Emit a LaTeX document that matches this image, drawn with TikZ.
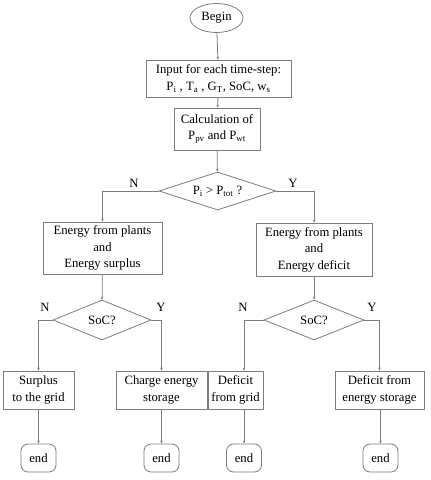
\documentclass[tikz,border=0pt]{standalone}
\usepackage{fontspec}
\setmainfont{Liberation Serif}
\usetikzlibrary{shapes.geometric,arrows.meta,calc}
\definecolor{linegray}{RGB}{125,125,125}
\begin{document}
\begin{tikzpicture}[x=1pt,y=-1pt,
  every node/.style={font=\fontsize{12.7}{16.5}\selectfont, text=black},
  box/.style={draw=linegray, line width=0.8pt, rectangle, inner sep=0pt, align=center},
  dec/.style={draw=linegray, line width=0.8pt, diamond, shape aspect=3, inner sep=0pt},
  term/.style={draw=linegray, line width=0.8pt, rectangle, rounded corners=7pt, inner sep=0pt, minimum width=35pt, minimum height=28pt},
  arr/.style={draw=linegray, line width=0.8pt, -{Stealth[length=3pt,width=2.5pt]}},
  lbl/.style={inner sep=0pt}]
\useasboundingbox (0,0) rectangle (431,480);
\node[draw=linegray, line width=0.8pt, ellipse, inner sep=0pt, minimum width=53pt, minimum height=29pt] (begin) at (216.5,18) {Begin};
\node[box, minimum width=145pt, minimum height=37pt] (input) at (218.5,78.5) {Input for each time-step:\\P\textsubscript{i} , T\textsubscript{a} , G\textsubscript{T}, SoC, w\textsubscript{s}};
\node[box, minimum width=86pt, minimum height=42pt] (calc) at (217,129) {Calculation of\\P\textsubscript{pv} and P\textsubscript{wt}};
\node[dec, minimum width=117pt, minimum height=38pt] (d1) at (217.5,191) {P\textsubscript{i} > P\textsubscript{tot} ?};
\node[box, minimum width=119pt, minimum height=52pt] (lb) at (102.5,248) {Energy from plants\\and\\Energy surplus};
\node[box, minimum width=116pt, minimum height=53pt] (rb) at (314,249.5) {Energy from plants\\and\\Energy deficit};
\node[dec, minimum width=98pt, minimum height=40pt] (d2) at (102,320) {SoC?};
\node[dec, minimum width=100pt, minimum height=40pt] (d3) at (314,320) {SoC?};
\node[box, minimum width=71pt, minimum height=38pt] (sg) at (38.5,390) {Surplus\\to the grid};
\node[box, minimum width=91pt, minimum height=38pt] (ces) at (161.5,390) {Charge energy\\storage};
\node[box, minimum width=55pt, minimum height=38pt] (dg) at (235.5,390) {Deficit\\from grid};
\node[box, minimum width=89pt, minimum height=38pt] (ds) at (379.5,390) {Deficit from\\energy storage};
\node[term] (e1) at (38.5,458) {end};
\node[term] (e2) at (161.5,458) {end};
\node[term] (e3) at (244,458) {end};
\node[term] (e4) at (380.5,458) {end};
\draw[arr] (begin) -- (input);
\draw[arr] (input) -- (calc);
\draw[arr] (calc) -- (d1);
\draw[arr] (d1.west) -| (lb.north);
\draw[arr] (d1.east) -| (rb.north);
\draw[arr] (lb) -- (d2);
\draw[arr] (rb) -- (d3);
\draw[arr] (d2.west) -| (sg.north);
\draw[arr] (d2.east) -| (ces.north);
\draw[arr] (d3.west) -| (e3.north |- dg.north);
\draw[arr] (d3.east) -| (ds.north);
\draw[arr] (sg) -- (e1);
\draw[arr] (ces) -- (e2);
\draw[arr] (e3.north |- dg.south) -- (e3.north);
\draw[arr] (ds.south -| e4.north) -- (e4.north);
\node[lbl] (n1) at (134,183) {N};
\node[lbl] (y1) at (293,183) {Y};
\node[lbl] (n2) at (45,307) {N};
\node[lbl] (y2) at (161,307) {Y};
\node[lbl] (n3) at (243,307) {N};
\node[lbl] (y3) at (372,307) {Y};
\end{tikzpicture}
\end{document}
